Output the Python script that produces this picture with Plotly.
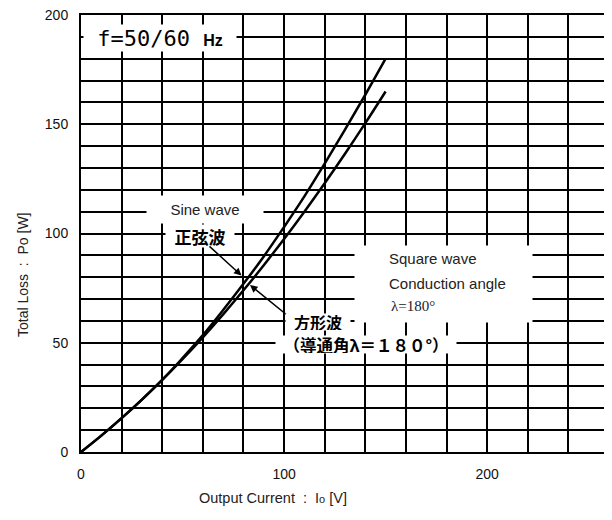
import plotly.graph_objects as go

# ---- data ----
current = [0, 10, 20, 30, 40, 50, 60, 70, 80, 90, 100, 110, 120, 130, 140, 150]
sine_loss = [0, 7.5, 15.5, 24, 33, 43, 53.5, 65, 77, 89.5, 103, 117, 132, 147.5, 163.5, 180]
square_loss = [0, 7.5, 15.5, 24, 33, 42.5, 52.5, 63, 74, 85.5, 97.5, 110, 123, 136.5, 150.5, 165]

x_grid = list(range(0, 261, 20))
x_labels = ["0", "100", "200"]
y_grid = list(range(0, 201, 10))
y_labels = ["0", "50", "100", "150", "200"]

x_ticktext = [str(v) if str(v) in x_labels else "" for v in x_grid]
y_ticktext = [str(v) if str(v) in y_labels else "" for v in y_grid]

OFF = 8  # page body margin
W, H = 612 - OFF, 520 - OFF
PL, PR, PT, PB = 81, 609, 15, 452  # plot area in page pixels
L, T = PL - OFF, PT - OFF
R = W - (PR - OFF)
B = H - (PB - OFF)
pw, ph = PR - PL, PB - PT

def px2x(px):
    return (px - PL) / pw * 260

def py2y(py):
    return 200 - (py - PT) / ph * 200

fig = go.Figure()
fig.add_trace(go.Scatter(x=current, y=sine_loss, mode="lines", line=dict(color="black", width=2.5, shape="spline"),
                         name="Sine wave", showlegend=False))
fig.add_trace(go.Scatter(x=current, y=square_loss, mode="lines", line=dict(color="black", width=2.5, shape="spline"),
                         name="Square wave", showlegend=False))

cjk = "Noto Sans CJK JP"
sans = "Liberation Sans, Arial, sans-serif"

ann = []
# f = 50/60 Hz box
ann.append(dict(x=px2x(160), y=py2y(38), xref="x", yref="y", showarrow=False,
                text="f=50/60 <span style='font-family:Liberation Sans;font-size:16px;font-weight:bold'>Hz</span>",
                font=dict(family="DejaVu Sans Mono", size=22, color="black"),
                bgcolor="white", width=150, height=24, align="center"))
# Sine wave label
ann.append(dict(x=px2x(205), y=py2y(209.5), xref="x", yref="y", showarrow=False,
                text="Sine wave", font=dict(family=sans, size=15, color="#222"),
                bgcolor="white", width=114, height=25))
ann.append(dict(x=px2x(200), y=py2y(236), xref="x", yref="y", showarrow=False,
                text="正弦波", font=dict(family=cjk, size=17, color="black", weight="bold"),
                bgcolor="white", width=66, height=20))
# arrow for sine
ann.append(dict(x=px2x(241.5), y=py2y(275.5), ax=px2x(208), ay=py2y(245), xref="x", yref="y",
                axref="x", ayref="y", showarrow=True, arrowhead=2, arrowsize=1, arrowwidth=1.5,
                arrowcolor="black", text=""))
# arrow for square
ann.append(dict(x=px2x(250), y=py2y(285), ax=px2x(293), ay=py2y(320), xref="x", yref="y",
                axref="x", ayref="y", showarrow=True, arrowhead=2, arrowsize=1, arrowwidth=1.5,
                arrowcolor="black", text=""))
# 方形波 labels
ann.append(dict(x=px2x(318), y=py2y(322), xref="x", yref="y", showarrow=False,
                text="方形波", font=dict(family=cjk, size=16, color="black", weight="bold"),
                bgcolor="white", width=64, height=16, borderpad=0))
ann.append(dict(x=px2x(366), y=py2y(344.5), xref="x", yref="y", showarrow=False,
                text="（導通角λ＝１８０°）", font=dict(family=cjk, size=16.5, color="black", weight="bold"),
                bgcolor="white", width=180, height=17, borderpad=0))
# Square wave white box
ann.append(dict(x=px2x(443.5), y=py2y(284), xref="x", yref="y", showarrow=False,
                text=" ", bgcolor="white", width=175, height=74))
ann.append(dict(x=px2x(387), y=py2y(258), xref="x", yref="y", showarrow=False, xanchor="left",
                text="Square wave", font=dict(family=sans, size=15, color="#222")))
ann.append(dict(x=px2x(387), y=py2y(283), xref="x", yref="y", showarrow=False, xanchor="left",
                text="Conduction angle", font=dict(family=sans, size=15, color="#222")))
ann.append(dict(x=px2x(389), y=py2y(306), xref="x", yref="y", showarrow=False, xanchor="left",
                text="λ=180°", font=dict(family="Liberation Serif", size=15, color="#222")))
# axis titles
ann.append(dict(x=(23 - PL) / pw, y=(PB - 275) / ph, xref="paper", yref="paper", showarrow=False,
                xanchor="center", yanchor="middle",
                text="Total Loss  :  Po [W]", textangle=-90, font=dict(family=sans, size=14, color="#222")))
ann.append(dict(x=(273 - PL) / pw, y=(PB - 498) / ph, xref="paper", yref="paper", showarrow=False,
                xanchor="center", yanchor="middle",
                text="Output Current  :  I<span style='font-size:11px'>o</span> [V]",
                font=dict(family=sans, size=14.5, color="#222")))

fig.update_layout(
    width=W, height=H, margin=dict(l=L, r=R, t=T, b=B, autoexpand=False),
    paper_bgcolor="white", plot_bgcolor="white",
    annotations=ann,
    xaxis=dict(range=[0, 260], tickmode="array", tickvals=x_grid, ticktext=x_ticktext,
               showgrid=True, gridcolor="black", gridwidth=1.5, zeroline=False,
               showline=True, linecolor="black", linewidth=2, mirror=True, ticks="",
               tickfont=dict(family=sans, size=14, color="#111"), ticklabelstandoff=8,
               ticklabeloverflow="allow"),
    yaxis=dict(range=[0, 200], tickmode="array", tickvals=y_grid, ticktext=y_ticktext,
               showgrid=True, gridcolor="black", gridwidth=1.5, zeroline=False,
               showline=True, linecolor="black", linewidth=2, mirror=True, ticks="",
               tickfont=dict(family=sans, size=14, color="#111"), ticklabelstandoff=8,
               ticklabeloverflow="allow"),
)

fig.write_html("out.html")
